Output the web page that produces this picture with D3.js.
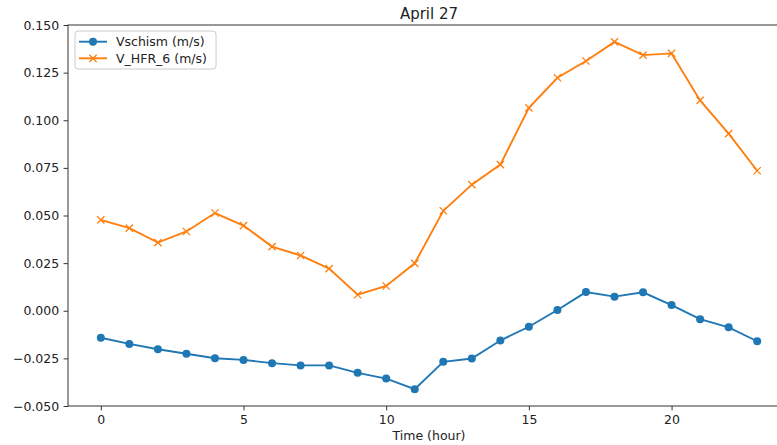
<!DOCTYPE html>
<!-- LINE CHART: APRIL 27 VELOCITIES -->
<html>
  <head>
    <meta charset="utf-8">
    <script type="text/javascript" src="https://cdn.jsdelivr.net/npm/d3@7/dist/d3.min.js"></script>
    <style>
      body { margin: 0; background: #fff; }
      svg { font-family: 'DejaVu Sans', sans-serif; }
      .tick text { font-size: 12.5px; fill: #222; }
      .legend { font-size: 12.5px; }
    </style>
  </head>
  <body>
    <div id="chart"></div>
  </body>
  <script>
  //data
  var hours = d3.range(0, 24);
  var vschism = [-0.0142, -0.0174, -0.0202, -0.0226, -0.0249, -0.0258, -0.0275, -0.0287,
                 -0.0287, -0.0326, -0.0356, -0.0412, -0.0268, -0.0251, -0.0156, -0.0084,
                 0.0004, 0.0098, 0.0074, 0.0097, 0.0030, -0.0044, -0.0087, -0.0160];
  var vHfr = [0.0477, 0.0434, 0.0358, 0.0416, 0.0513, 0.0447, 0.0337, 0.0290,
              0.0221, 0.0084, 0.0130, 0.0249, 0.0525, 0.0662, 0.0767, 0.1065,
              0.1223, 0.1311, 0.1411, 0.1342, 0.1351, 0.1104, 0.0930, 0.0735];
  var xTicks = [0, 5, 10, 15, 20];
  var yTicks = [-0.050, -0.025, 0.000, 0.025, 0.050, 0.075, 0.100, 0.125, 0.150];
  var seriesNames = ['Vschism (m/s)', 'V_HFR_6 (m/s)'];

  (function (d3) {
    'use strict';
    var width = 777;
    var height = 445;
    var left = 68, right = 790, top = 25, bottom = 406;
    var blue = '#1f77b4', orange = '#ff7f0e';

    var svg = d3.select('#chart')
      .append('svg')
      .attr('width', width)
      .attr('height', height);

    var x = d3.scaleLinear().domain([-1.15, 24.15]).range([left, right]);
    var y = d3.scaleLinear().domain([-0.05, 0.15]).range([bottom, top]);

    // axes
    var xAxis = d3.axisBottom(x).tickValues(xTicks).tickSize(4.4).tickPadding(4.4)
      .tickFormat(d3.format('d'));
    var yAxis = d3.axisLeft(y).tickValues(yTicks).tickSize(4.4).tickPadding(4.4)
      .tickFormat(function (d) { return d3.format('.3f')(d).replace('-', '\u2212'); });

    svg.append('g')
      .attr('transform', 'translate(0,' + bottom + ')')
      .call(xAxis)
      .call(function (g) { g.select('.domain').remove(); });
    svg.append('g')
      .attr('transform', 'translate(' + left + ',0)')
      .call(yAxis)
      .call(function (g) { g.select('.domain').remove(); });
    svg.selectAll('.tick line').attr('stroke', '#333').attr('stroke-width', 1);
    svg.selectAll('.tick text').attr('font-family', 'DejaVu Sans, sans-serif').attr('font-size', 12.5);

    // frame
    svg.append('rect')
      .attr('x', left).attr('y', top)
      .attr('width', right - left).attr('height', bottom - top)
      .attr('fill', 'none').attr('stroke', '#333').attr('stroke-width', 1);

    // lines
    var line = d3.line()
      .x(function (d, i) { return x(hours[i]); })
      .y(function (d) { return y(d); });

    svg.append('path').datum(vschism)
      .attr('d', line).attr('fill', 'none')
      .attr('stroke', blue).attr('stroke-width', 1.9);
    svg.selectAll('.dot').data(vschism).enter()
      .append('circle').attr('class', 'dot')
      .attr('cx', function (d, i) { return x(hours[i]); })
      .attr('cy', function (d) { return y(d); })
      .attr('r', 4).attr('fill', blue);

    svg.append('path').datum(vHfr)
      .attr('d', line).attr('fill', 'none')
      .attr('stroke', orange).attr('stroke-width', 1.9);
    var cross = d3.symbol().type(d3.symbolX).size(36);
    svg.selectAll('.xm').data(vHfr).enter()
      .append('path').attr('class', 'xm')
      .attr('d', cross)
      .attr('transform', function (d, i) { return 'translate(' + x(hours[i]) + ',' + y(d) + ')'; })
      .attr('fill', 'none').attr('stroke', orange).attr('stroke-width', 1.3);

    // title and label
    svg.append('text')
      .attr('x', (left + right) / 2).attr('y', 19)
      .attr('text-anchor', 'middle').attr('font-size', 15).attr('fill', '#222')
      .text('April 27');
    svg.append('text')
      .attr('x', (left + right) / 2).attr('y', 440)
      .attr('text-anchor', 'middle').attr('font-size', 12.5).attr('fill', '#222')
      .text('Time (hour)');

    // legend
    var lg = svg.append('g').attr('class', 'legend').attr('transform', 'translate(75,31)');
    lg.append('rect')
      .attr('width', 141).attr('height', 38).attr('rx', 3)
      .attr('fill', '#fff').attr('fill-opacity', 0.8)
      .attr('stroke', '#ccc').attr('stroke-width', 1);
    var rows = lg.selectAll('.row').data(seriesNames).enter()
      .append('g').attr('class', 'row')
      .attr('transform', function (d, i) { return 'translate(0,' + (10.7 + i * 16.6) + ')'; });
    rows.append('line')
      .attr('x1', 4).attr('x2', 32)
      .attr('stroke', function (d, i) { return i === 0 ? blue : orange; })
      .attr('stroke-width', 1.9);
    rows.each(function (d, i) {
      var g = d3.select(this);
      if (i === 0) {
        g.append('circle').attr('cx', 18).attr('r', 4).attr('fill', blue);
      } else {
        g.append('path').attr('d', cross).attr('transform', 'translate(18,0)')
          .attr('fill', 'none').attr('stroke', orange).attr('stroke-width', 1.3);
      }
    });
    rows.append('text')
      .attr('x', 41).attr('dy', '0.35em').attr('fill', '#222')
      .text(function (d) { return d; });
  })(window.d3);
  </script>
</html>
